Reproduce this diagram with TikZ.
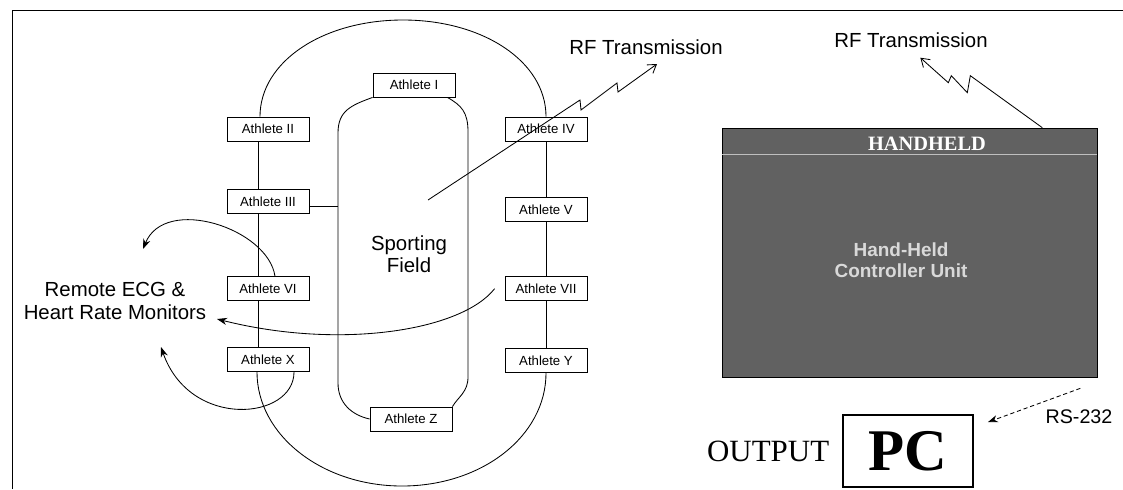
\documentclass[tikz,border=0pt]{standalone}
\usepackage{fontspec}
\setmainfont{Liberation Serif}
\setsansfont{Liberation Sans}
\usetikzlibrary{positioning}
\usetikzlibrary{arrows.meta}
\usetikzlibrary{calc}

\begin{document}
\begin{tikzpicture}[
		x=0.025cm, y=-0.025cm,
		% Style definitions
		athlete/.style={draw, fill=white, semithick, minimum width=2.05cm, minimum height=0.6cm, inner sep=0pt, font=\sffamily\fontsize{9.4}{11}\selectfont},
		biglabel/.style={align=center, font=\sffamily\fontsize{14.5}{16.5}\selectfont},
		track/.style={semithick},
		arrow/.style={-{Stealth[length=2.5mm, width=1.8mm]}, semithick},
		bolt/.style={-{Straight Barb[length=2mm, width=2.6mm]}, semithick},
		]
		\useasboundingbox (0,0) rectangle (1123,489);

		% Frame (top and left edges only)
		\draw[semithick] (12,489) -- (12,10) -- (1123,10);

		% Athletes on the track
		\node[athlete] (athII) at (268,129) {Athlete II};
		\node[athlete, below=1.2cm of athII] (athIII) {Athlete III};
		\node[athlete, below=1.55cm of athIII] (athVI) {Athlete VI};
		\node[athlete, below=1.15cm of athVI] (athX) {Athlete X};
		\node[athlete] (athIV) at (546,129) {Athlete IV};
		\node[athlete, below=1.4cm of athIV] (athV) {Athlete V};
		\node[athlete, below=1.35cm of athV] (athVII) {Athlete VII};
		\node[athlete, below=1.175cm of athVII] (athY) {Athlete Y};
		\node[athlete] (athI) at (414,85) {Athlete I};
		\node[athlete] (athZ) at (411,419) {Athlete Z};

		% Outer track
		\foreach \a/\b in {athII/athIII, athIII/athVI, athVI/athX}
			\draw[track] ([xshift=-0.25cm]\a.south) -- ([xshift=-0.25cm]\b.north);
		\foreach \a/\b in {athIV/athV, athV/athVII, athVII/athY}
			\draw[track] (\a.south) -- (\b.north);
		\coordinate (outTop) at (403,20);
		\coordinate (outBot) at (402,486);
		\draw[track] ([xshift=-0.2cm]athII.north) .. controls +(0,-55) and +(-80,0) .. (outTop)
			.. controls +(80,0) and +(0,-55) .. (athIV.north);
		\draw[track] ([xshift=-0.275cm]athX.south) .. controls +(0,63) and +(-80,0) .. (outBot)
			.. controls +(80,0) and +(0,63) .. (athY.south);

		% Inner track (sporting field)
		\coordinate (inTL) at (338,133);
		\coordinate (inBL) at (338,383);
		\coordinate (inTR) at (468,132);
		\coordinate (inBR) at (468,377);
		\draw[track] (athI.south west) .. controls +(-22,8) and +(0,-22) .. (inTL) -- (inBL)
			.. controls +(0,20) and +(-18,-4) .. (athZ.west);
		\draw[track] ([xshift=-0.2cm]athI.south east) .. controls +(14,8) and +(0,-20) .. (inTR) -- (inBR)
			.. controls +(0,15) and +(6,-10) .. (athZ.north east);
		\coordinate (fieldW) at (338,206);
		\draw[track] (fieldW -| athIII.east) -- (fieldW);

		\node[biglabel, font=\sffamily\fontsize{14.5}{15.5}\selectfont] (field) at (409,254) {Sporting\\Field};

		% Monitors
		\node[biglabel] (ecg) at (115,301) {Remote ECG \&\\Heart Rate Monitors};
		\coordinate (ecgA) at (143,249);
		\coordinate (ecgB) at (161,347);
		\coordinate (ecgC) at (217,319);
		\draw[arrow] ([xshift=0.175cm]athVI.north) .. controls +(-7,-48) and +(22,-54) .. (ecgA);
		\draw[arrow] ([xshift=0.65cm]athX.south) .. controls +(0,48) and +(29,83) .. (ecgB);
		\draw[arrow] ([xshift=-0.25cm]athVII.west) .. controls +(-33,42) and +(123,31) .. (ecgC);

		% RF link from the field
		\node[biglabel] (rf1) at (646,47) {RF Transmission};
		\coordinate (rfStart) at (428,200);
		\draw[bolt] (rfStart) -- ++(152,-100) -- ++(1,10) -- ++(36,-27) -- ++(1,9) -- ++(39,-28);

		% Hand-held unit
		\node[draw, fill=black!62, minimum width=9.375cm, minimum height=6.225cm, inner sep=0pt] (hh) at (909.5,252.5) {};
		\draw[black!25] ([yshift=-0.675cm]hh.north west) -- ([yshift=-0.675cm]hh.north east);
		\node[font=\bfseries\fontsize{14.5}{16}\selectfont, text=white] (hhTitle) at (927,144) {HANDHELD};
		\node[font=\sffamily\bfseries\fontsize{13.5}{15}\selectfont, text=white!85!black, align=center] (hhText) at (901,260) {Hand-Held\\Controller Unit};

		\node[biglabel] (rf2) at (911,40) {RF Transmission};
		\draw[bolt] ([xshift=-1.375cm]hh.north east) -- ++(-72,-52) -- ++(-3,17) -- ++(-16,-17) -- ++(-3,7) -- ++(-28,-25);

		% PC output
		\node[draw, line width=1.2pt, minimum width=3.25cm, minimum height=1.8cm, inner sep=0pt, font=\bfseries\fontsize{42}{44}\selectfont] (pc) at (908,451) {PC};
		\node[font=\fontsize{22}{24}\selectfont, left=0.2cm of pc] (out) {OUTPUT};
		\node[font=\sffamily\fontsize{14}{16}\selectfont] (rs) at (1079,417) {RS-232};
		\draw[arrow, densely dashed] ([shift={(-17,11)}]hh.south east) -- ([shift={(14,8)}]pc.north east);

	\end{tikzpicture}
\end{document}
